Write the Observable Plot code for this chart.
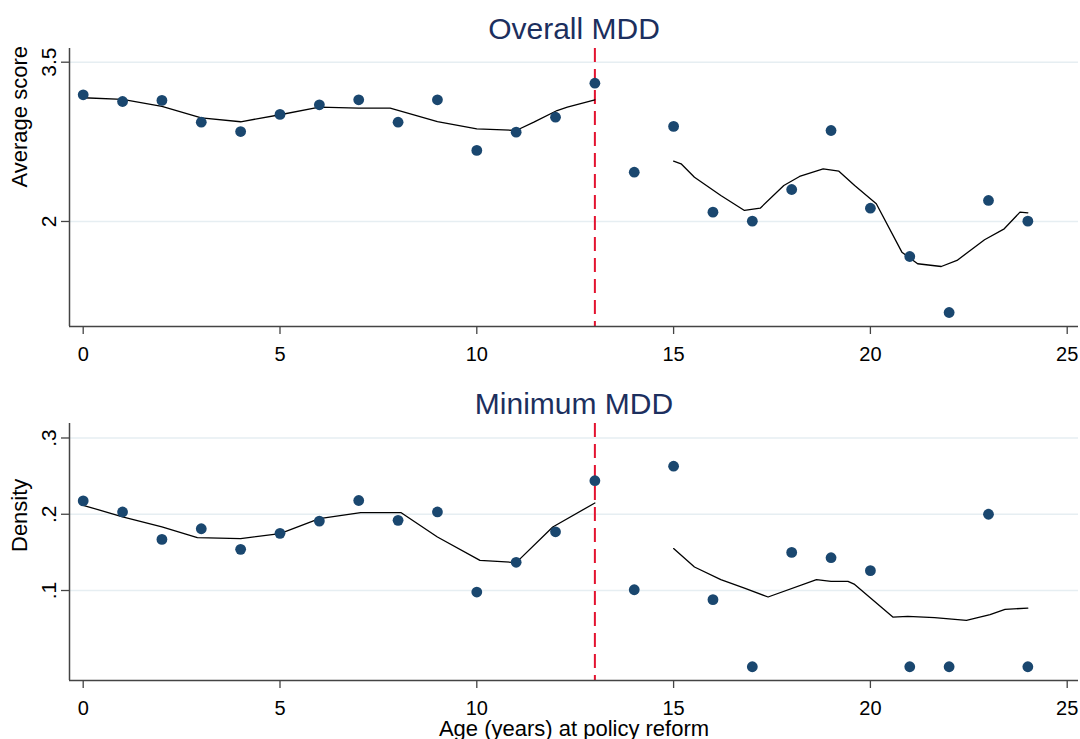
<!DOCTYPE html>
<html>
<head>
<meta charset="utf-8">
<script src="https://cdn.jsdelivr.net/npm/d3@7"></script>
<script src="https://cdn.jsdelivr.net/npm/@observablehq/plot@0.6"></script>
<style>
  html, body { margin: 0; padding: 0; background: white; }
  #chart svg { display: block; }
</style>
</head>
<body>
<div id="chart"></div>
<script>
// ---------- data ----------
const ages = [0, 1, 2, 3, 4, 5, 6, 7, 8, 9, 10, 11, 12, 13, 14, 15, 16, 17, 18, 19, 20, 21, 22, 23, 24];
const reformAge = 13;

// Overall MDD: average score by age at policy reform
const overallScore = [3.193, 3.13, 3.14, 2.935, 2.847, 3.008, 3.099, 3.146, 2.935, 3.146, 2.669, 2.841, 2.982, 3.302,
                      2.464, 2.895, 2.088, 2.003, 2.301, 2.857, 2.125, 1.670, 1.143, 2.198, 2.003];
// smoothed fit, before and after reform
const overallFitPreAge = [0, 1, 2, 3, 4, 5, 6, 7, 7.8, 8, 9, 10, 11, 11.45, 12.04, 12.3, 13];
const overallFitPreVal = [3.165, 3.149, 3.083, 2.976, 2.939, 3.005, 3.076, 3.067, 3.067, 3.047, 2.94, 2.873, 2.857, 2.935, 3.045, 3.076, 3.146];
const overallFitPostAge = [15, 15.19, 15.53, 16.2, 16.8, 17.2, 17.8, 18.2, 18.8, 19.2, 19.6, 20.15, 20.8, 21.2, 21.8, 22.2, 22.9, 23.4, 23.8, 24];
const overallFitPostVal = [2.568, 2.543, 2.417, 2.245, 2.104, 2.125, 2.339, 2.424, 2.496, 2.474, 2.339, 2.167, 1.711, 1.602, 1.576, 1.633, 1.828, 1.931, 2.088, 2.082];

// Minimum MDD: density by age at policy reform
const minDensity = [0.2175, 0.203, 0.167, 0.181, 0.154, 0.175, 0.191, 0.218, 0.192, 0.203, 0.098, 0.137, 0.177, 0.244,
                    0.101, 0.263, 0.088, 0, 0.150, 0.143, 0.126, 0, 0, 0.200, 0];
const minFitPreAge = [0, 1, 2, 2.9, 4, 5, 6, 7.05, 8.07, 9, 10.08, 11, 11.93, 13];
const minFitPreVal = [0.2118, 0.1965, 0.1833, 0.1694, 0.168, 0.1747, 0.1943, 0.2022, 0.2022, 0.1702, 0.1396, 0.1366, 0.1833, 0.2148];
const minFitPostAge = [15, 15.53, 16.2, 16.8, 17.4, 18.63, 19.0, 19.43, 19.6, 20.57, 20.95, 21.63, 22.44, 23.04, 23.42, 24];
const minFitPostVal = [0.155, 0.1308, 0.1143, 0.103, 0.0915, 0.1143, 0.112, 0.112, 0.108, 0.0652, 0.0661, 0.0644, 0.0609, 0.0684, 0.0753, 0.077];

// ticks & labels
const xTicks = [0, 5, 10, 15, 20, 25];
const overallYTicks = [2, 3.5];
const overallYTickLabels = ["2", "3.5"];
const minYTicks = [0.1, 0.2, 0.3];
const minYTickLabels = [".1", ".2", ".3"];
const overallTitle = "Overall MDD";
const minTitle = "Minimum MDD";
const overallYLabel = "Average score";
const minYLabel = "Density";
const xLabel = "Age (years) at policy reform";

// ---------- style ----------
const FONT = "'Liberation Sans', Arial, Helvetica, sans-serif";
const NAVY = "#1a476f";
const TITLE_COLOR = "#1c2f5e";
const GRID = "#e6eef2";
const AXIS = "#444444";
const RED = "#e3122f";
const xDomain = [-0.348, 25.287];

const zip = (xs, ys) => xs.map((x, i) => ({age: x, v: ys[i]}));

function panel({height, marginBottom, yDomain, yTicks, yTickLabels, title, yLabel, values, pre, post, showXLabel}) {
  const pts = zip(ages, values);
  const marks = [
    Plot.gridY(yTicks, {stroke: GRID, strokeOpacity: 1, strokeWidth: 1.6}),
    Plot.ruleX([reformAge], {stroke: RED, strokeWidth: 2, strokeDasharray: "14,7"}),
    Plot.line(pre, {x: "age", y: "v", stroke: "black", strokeWidth: 1.3}),
    Plot.line(post, {x: "age", y: "v", stroke: "black", strokeWidth: 1.3}),
    Plot.dot(pts, {x: "age", y: "v", r: 5.4, fill: NAVY, stroke: null}),
    Plot.ruleX([xDomain[0]], {stroke: AXIS, strokeWidth: 1.5}),
    Plot.ruleY([yDomain[0]], {stroke: AXIS, strokeWidth: 1.5}),
    Plot.axisX({ticks: xTicks, tickSize: 8, tickPadding: 12, fontSize: 20, fill: "black", stroke: AXIS, strokeWidth: 1.3, label: null}),
    Plot.axisY({ticks: yTicks, tickFormat: d => yTickLabels[yTicks.indexOf(d)], tickSize: 8, tickPadding: 6, tickRotate: -90,
                fontSize: 21, fill: "black", stroke: AXIS, strokeWidth: 1.3, label: null}),
    Plot.text([title], {frameAnchor: "top", lineAnchor: "middle", dy: -19, fontSize: 30, fill: TITLE_COLOR}),
    Plot.text([yLabel], {frameAnchor: "left", lineAnchor: "middle", dx: -50, rotate: -90, fontSize: 22, fill: "black"})
  ];
  if (showXLabel) marks.push(Plot.text([xLabel], {frameAnchor: "bottom", lineAnchor: "middle", dy: 48, fontSize: 22, fill: "black"}));
  return Plot.plot({
    width: 1080, height,
    marginLeft: 69, marginRight: 2, marginTop: 48, marginBottom,
    style: {fontFamily: FONT, fontSize: "20px", background: "white", overflow: "visible"},
    x: {domain: xDomain},
    y: {domain: yDomain},
    marks
  });
}

const el = document.getElementById("chart");
el.append(panel({
  height: 375, marginBottom: 49, yDomain: [1.011, 3.629], yTicks: overallYTicks, yTickLabels: overallYTickLabels,
  title: overallTitle, yLabel: overallYLabel, values: overallScore,
  pre: zip(overallFitPreAge, overallFitPreVal), post: zip(overallFitPostAge, overallFitPostVal), showXLabel: false
}));
el.append(panel({
  height: 364, marginBottom: 59, yDomain: [-0.018, 0.319], yTicks: minYTicks, yTickLabels: minYTickLabels,
  title: minTitle, yLabel: minYLabel, values: minDensity,
  pre: zip(minFitPreAge, minFitPreVal), post: zip(minFitPostAge, minFitPostVal), showXLabel: true
}));
</script>
</body>
</html>
